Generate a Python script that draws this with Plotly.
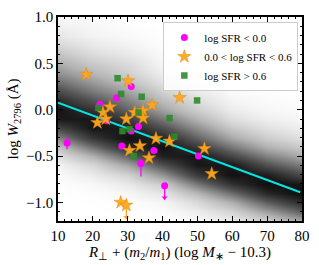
import plotly.graph_objects as go

# ---------------- data ----------------
# log SFR < 0.0 (magenta circles)
mag_x = [12.6, 22.0, 24.0, 26.8, 31.0, 33.1, 31.0, 28.3, 37.5, 33.8, 40.6, 50.3]
mag_y = [-0.36, 0.06, -0.12, 0.13, 0.25, -0.18, -0.23, -0.39, -0.44, -0.58, -0.82, -0.50]
mag_err_up = [0.065, 0.03, 0.03, 0.03, 0.03, 0.03, 0.03, 0.03, 0.03, 0.05, 0.0, 0.03]
mag_err_dn = [0.065, 0.03, 0.03, 0.03, 0.03, 0.03, 0.03, 0.03, 0.03, 0.14, 0.0, 0.03]
mag_limit = [0, 0, 0, 0, 0, 0, 0, 0, 0, 0, 1, 0]

# 0.0 < log SFR < 0.6 (orange stars)
org_x = [18.1, 30.1, 37.0, 24.9, 22.9, 23.7, 21.3, 32.0, 34.4, 34.4, 29.6, 44.9,
         38.1, 42.0, 33.5, 52.0, 30.5, 36.1, 54.1, 28.0, 29.6]
org_y = [0.38, 0.31, 0.05, 0.03, -0.03, -0.10, -0.14, -0.03, -0.01, -0.09, -0.10, 0.13,
         -0.31, -0.34, -0.39, -0.42, -0.44, -0.52, -0.69, -1.00, -1.03]
org_limit = [0] * 20 + [1]

# log SFR > 0.6 (green squares)
grn_x = [27.1, 28.1, 34.0, 21.6, 33.1, 28.5, 30.5, 42.0, 49.9, 43.4, 31.7]
grn_y = [0.34, 0.17, 0.14, 0.02, -0.03, -0.23, -0.21, -0.09, 0.10, -0.29, -0.50]

limit_len = 0.13  # length of upper-limit arrows (dex)

# best-fit line
fit_x = [10.0, 79.5]
fit_y = [0.077, -0.89]

# background density (model sample), grey level 0..1
bg_x = [10, 20, 30, 40, 50, 60, 70, 80]
bg_y = [-1.2, -1.1, -1.0, -0.9, -0.8, -0.7, -0.6, -0.5, -0.4, -0.3, -0.2, -0.1,
        0.0, 0.1, 0.2, 0.3, 0.4, 0.5, 0.6, 0.7, 0.8, 0.9, 1.0]
bg_z = [
    [0.0, 0.0, 0.0, 0.005, 0.025, 0.08, 0.19, 0.34],
    [0.0, 0.0, 0.004, 0.015, 0.07, 0.17, 0.36, 0.56],
    [0.0, 0.003, 0.012, 0.04, 0.15, 0.32, 0.58, 0.77],
    [0.0, 0.01, 0.035, 0.11, 0.29, 0.53, 0.78, 0.90],
    [0.008, 0.03, 0.09, 0.21, 0.49, 0.74, 0.89, 0.84],
    [0.02, 0.08, 0.18, 0.40, 0.70, 0.87, 0.82, 0.64],
    [0.05, 0.16, 0.35, 0.62, 0.84, 0.84, 0.62, 0.47],
    [0.13, 0.31, 0.56, 0.81, 0.85, 0.66, 0.46, 0.33],
    [0.25, 0.52, 0.77, 0.87, 0.71, 0.49, 0.31, 0.21],
    [0.45, 0.72, 0.87, 0.78, 0.56, 0.34, 0.20, 0.125],
    [0.66, 0.85, 0.82, 0.63, 0.42, 0.22, 0.12, 0.07],
    [0.83, 0.84, 0.69, 0.49, 0.30, 0.13, 0.065, 0.035],
    [0.86, 0.73, 0.56, 0.36, 0.20, 0.075, 0.035, 0.017],
    [0.76, 0.60, 0.45, 0.26, 0.13, 0.04, 0.017, 0.007],
    [0.64, 0.48, 0.35, 0.18, 0.08, 0.02, 0.006, 0.0],
    [0.52, 0.38, 0.26, 0.11, 0.045, 0.008, 0.0, 0.0],
    [0.41, 0.29, 0.19, 0.065, 0.025, 0.0, 0.0, 0.0],
    [0.32, 0.21, 0.14, 0.035, 0.01, 0.0, 0.0, 0.0],
    [0.24, 0.14, 0.09, 0.02, 0.0, 0.0, 0.0, 0.0],
    [0.16, 0.09, 0.05, 0.01, 0.0, 0.0, 0.0, 0.0],
    [0.10, 0.05, 0.025, 0.005, 0.0, 0.0, 0.0, 0.0],
    [0.06, 0.03, 0.012, 0.0, 0.0, 0.0, 0.0, 0.0],
    [0.035, 0.012, 0.005, 0.0, 0.0, 0.0, 0.0, 0.0],
]

legend_names = ["log SFR < 0.0", "0.0 < log SFR < 0.6", "log SFR > 0.6"]

# ---------------- styles ----------------
MAG = "#ff00ff"
ORG = "#ffa620"
ORG_EDGE = "#e08a00"
GRN = "#2e8b2e"
CYAN = "#00e6e6"
FONT = "Liberation Serif"

fig = go.Figure()

fig.add_trace(go.Heatmap(
    x=bg_x, y=bg_y, z=bg_z, zmin=0, zmax=1, zsmooth="best",
    colorscale=[[0, "#ffffff"], [0.3, "#b4b4b4"], [0.6, "#555555"],
                [0.85, "#151515"], [1, "#000000"]],
    showscale=False, hoverinfo="skip"))

fig.add_trace(go.Scatter(
    x=fit_x, y=fit_y, mode="lines", line=dict(color=CYAN, width=2),
    showlegend=False, hoverinfo="skip"))


def limit_arrows(xs, ys, flags, color):
    lx = [x for x, f in zip(xs, flags) if f]
    ly = [y for y, f in zip(ys, flags) if f]
    fig.add_trace(go.Scatter(
        x=lx, y=ly, mode="markers", marker=dict(size=0.1, color=color),
        error_y=dict(type="data", symmetric=False, array=[0] * len(lx),
                     arrayminus=[limit_len] * len(lx), color=color,
                     thickness=1.3, width=0),
        showlegend=False, hoverinfo="skip"))
    fig.add_trace(go.Scatter(
        x=lx, y=[y - limit_len for y in ly], mode="markers",
        marker=dict(symbol="triangle-down", size=5, color=color),
        showlegend=False, hoverinfo="skip"))


limit_arrows(mag_x, mag_y, mag_limit, MAG)
limit_arrows(org_x, org_y, org_limit, ORG)

fig.add_trace(go.Scatter(
    x=mag_x, y=mag_y, mode="markers", name=legend_names[0],
    marker=dict(symbol="circle", size=7, color=MAG),
    error_y=dict(type="data", symmetric=False, array=mag_err_up,
                 arrayminus=mag_err_dn, color=MAG, thickness=1.3, width=0)))

fig.add_trace(go.Scatter(
    x=org_x, y=org_y, mode="markers", name=legend_names[1],
    marker=dict(symbol="star", size=10, color=ORG, opacity=0.95,
                line=dict(color=ORG_EDGE, width=0.5))))

fig.add_trace(go.Scatter(
    x=grn_x, y=grn_y, mode="markers", name=legend_names[2],
    marker=dict(symbol="square", size=6.5, color=GRN, opacity=0.9)))

axis_common = dict(
    showgrid=False, zeroline=False, showline=True, linecolor="black",
    linewidth=1.5, mirror="allticks", ticks="inside", ticklen=5,
    tickwidth=1, tickcolor="black",
    tickfont=dict(family=FONT, size=15, color="black"),
)

fig.update_xaxes(
    **axis_common, range=[10, 80], tickvals=[10, 20, 30, 40, 50, 60, 70, 80],
    minor=dict(dtick=2, ticks="inside", ticklen=2.5, tickcolor="black"),
    title=dict(text="<i>R</i><sub>⊥</sub> + (<i>m</i><sub>2</sub>/<i>m</i><sub>1</sub>) "
                    "(log <i>M</i><sub>∗</sub> − 10.3)",
               font=dict(family=FONT, size=15, color="black"), standoff=2))

fig.update_yaxes(
    **axis_common, range=[-1.2, 1.0], tickvals=[-1.0, -0.5, 0.0, 0.5, 1.0],
    ticktext=["−1.0", "−0.5", "0.0", "0.5", "1.0"],
    minor=dict(dtick=0.1, tick0=0, ticks="inside", ticklen=2.5, tickcolor="black"),
    title=dict(text="log <i>W</i><sub>2796</sub> (Å)",
               font=dict(family=FONT, size=15, color="black"), standoff=4))

fig.update_layout(
    width=319, height=265,
    margin=dict(l=58, r=9, t=9, b=40),
    paper_bgcolor="white", plot_bgcolor="white",
    legend=dict(x=0.985, y=0.975, xanchor="right", yanchor="top",
                bgcolor="rgba(255,255,255,0.85)", bordercolor="#cccccc",
                borderwidth=1, font=dict(family=FONT, size=11, color="black"),
                tracegroupgap=0, itemwidth=30),
)

fig.write_html("out.html", config={"displayModeBar": False},
               post_script="document.body.style.margin='0px';")
